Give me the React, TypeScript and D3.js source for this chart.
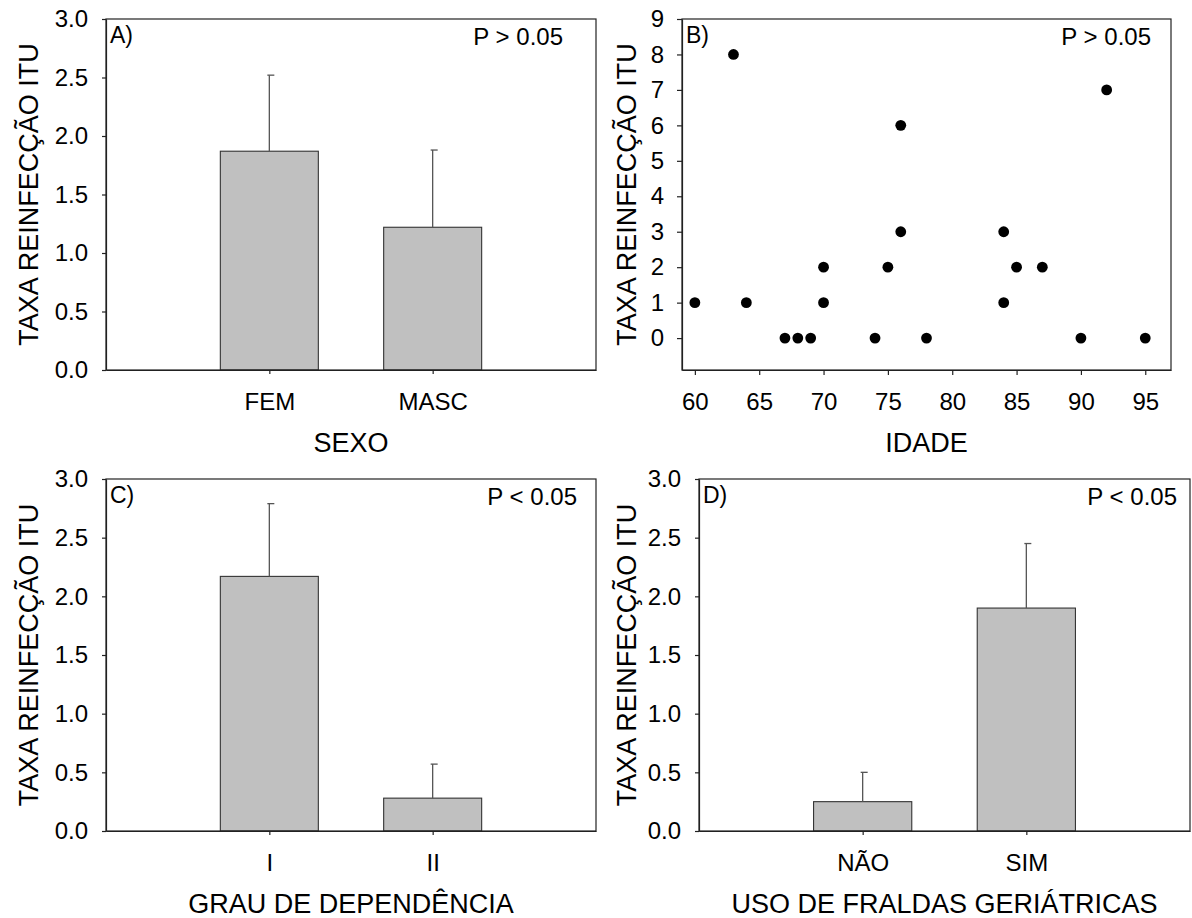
import * as d3 from 'd3';
import React, { useRef, useEffect } from 'react';

// painel A - sexo
const sexoCats = ['FEM', 'MASC'];
const sexoMeans = [1.87, 1.22];
const sexoErr = [0.65, 0.66];

// painel B - idade x reinfecções
const idades = [60, 63, 64, 67, 68, 69, 70, 70, 74, 75, 76, 76, 78, 84, 84, 85, 87, 90, 92, 95];
const reinfeccoes = [1, 8, 1, 0, 0, 0, 2, 1, 0, 2, 6, 3, 0, 3, 1, 2, 2, 0, 7, 0];

// painel C - grau de dependência
const grauCats = ['I', 'II'];
const grauMeans = [2.17, 0.28];
const grauErr = [0.62, 0.29];

// painel D - fraldas geriátricas
const fraldaCats = ['NÃO', 'SIM'];
const fraldaMeans = [0.25, 1.9];
const fraldaErr = [0.25, 0.55];

const barTicks = [0, 0.5, 1, 1.5, 2, 2.5, 3];
const idadeTicks = [60, 65, 70, 75, 80, 85, 90, 95];
const reinfTicks = [0, 1, 2, 3, 4, 5, 6, 7, 8, 9];

const yTitle = 'TAXA REINFECÇÃO ITU';
const FONT = "'Liberation Sans', Arial, sans-serif";
const INK = '#222';

type Box = { left: number; right: number; top: number; bottom: number };

function frame(svg: any, box: Box, tag: string, pText: string, pRight: number, xTitle: string, yTitleX: number) {
  const g = svg.append('g');
  g.append('rect')
    .attr('x', box.left).attr('y', box.top)
    .attr('width', box.right - box.left).attr('height', box.bottom - box.top)
    .attr('fill', 'none').attr('stroke', INK).attr('stroke-width', 1.2);

  g.append('text')
    .attr('x', box.left + 4).attr('y', box.top + 24)
    .attr('font-size', 23).attr('font-family', FONT)
    .text(tag);

  g.append('text')
    .attr('x', box.right - pRight).attr('y', box.top + 26)
    .attr('text-anchor', 'end')
    .attr('font-size', 24).attr('font-family', FONT)
    .text(pText);

  g.append('text')
    .attr('x', (box.left + box.right) / 2).attr('y', box.bottom + 82)
    .attr('text-anchor', 'middle')
    .attr('font-size', 27).attr('font-family', FONT)
    .text(xTitle);

  g.append('text')
    .attr('transform', `translate(${yTitleX},${(box.top + box.bottom) / 2}) rotate(-90)`)
    .attr('text-anchor', 'middle')
    .attr('font-size', 27).attr('font-family', FONT)
    .text(yTitle);
}

function styleAxis(ax: any) {
  ax.attr('font-size', 24).attr('font-family', FONT);
  ax.selectAll('path, line').attr('stroke', INK).attr('stroke-width', 1.2);
  ax.selectAll('text').attr('fill', '#000');
}

function barPanel(svg: any, box: Box, cats: string[], means: number[], errs: number[]) {
  const x = d3.scaleLinear().domain([0, 3]).range([box.left, box.right]);
  const y = d3.scaleLinear().domain([0, 3]).range([box.bottom, box.top]);
  const bw = x(0.6) - x(0);

  const g = svg.append('g');
  g.selectAll('rect.bar')
    .data(means)
    .enter()
    .append('rect')
    .attr('class', 'bar')
    .attr('x', (d: number, i: number) => x(i + 1) - bw / 2)
    .attr('y', (d: number) => y(d))
    .attr('width', bw)
    .attr('height', (d: number) => y(0) - y(d))
    .attr('fill', '#c0c0c0')
    .attr('stroke', '#333')
    .attr('stroke-width', 1.1);

  means.forEach((m, i) => {
    const cx = x(i + 1);
    g.append('line')
      .attr('x1', cx).attr('x2', cx)
      .attr('y1', y(m)).attr('y2', y(m + errs[i]))
      .attr('stroke', '#555').attr('stroke-width', 1.3);
    g.append('line')
      .attr('x1', cx - 2).attr('x2', cx + 5)
      .attr('y1', y(m + errs[i])).attr('y2', y(m + errs[i]))
      .attr('stroke', '#555').attr('stroke-width', 1.3);
  });

  const ay = svg.append('g')
    .attr('transform', `translate(${box.left},0)`)
    .call(d3.axisLeft(y).tickValues(barTicks).tickFormat(d3.format('.1f') as any)
      .tickSize(4).tickSizeOuter(0).tickPadding(14));
  styleAxis(ay);

  const ax = svg.append('g')
    .attr('transform', `translate(0,${box.bottom})`)
    .call(d3.axisBottom(x).tickValues([1, 2]).tickFormat((d: any, i: number) => cats[i])
      .tickSize(4).tickSizeOuter(0).tickPadding(19));
  styleAxis(ax);
}

function scatterPanel(svg: any, box: Box) {
  const x = d3.scaleLinear().domain([59, 97]).range([box.left, box.right]);
  const y = d3.scaleLinear().domain([-0.9, 9]).range([box.bottom, box.top]);

  svg.append('g')
    .selectAll('circle')
    .data(idades)
    .enter()
    .append('circle')
    .attr('cx', (d: number) => x(d))
    .attr('cy', (d: number, i: number) => y(reinfeccoes[i]))
    .attr('r', 5.4)
    .attr('fill', '#000');

  const ay = svg.append('g')
    .attr('transform', `translate(${box.left},0)`)
    .call(d3.axisLeft(y).tickValues(reinfTicks).tickFormat(d3.format('d') as any)
      .tickSize(5).tickSizeOuter(0).tickPadding(13));
  styleAxis(ay);

  const ax = svg.append('g')
    .attr('transform', `translate(0,${box.bottom})`)
    .call(d3.axisBottom(x).tickValues(idadeTicks).tickFormat(d3.format('d') as any)
      .tickSize(5).tickSizeOuter(0).tickPadding(18));
  styleAxis(ax);
}

function App() {
  const ref = useRef(null);

  useEffect(() => {
    const svg = d3.select(ref.current);
    svg.selectAll('*').remove();

    const boxA = { left: 106, right: 596, top: 19, bottom: 370 };
    const boxB = { left: 682, right: 1171, top: 19, bottom: 370 };
    const boxC = { left: 106, right: 596, top: 479, bottom: 831 };
    const boxD = { left: 699, right: 1190, top: 479, bottom: 831 };

    barPanel(svg, boxA, sexoCats, sexoMeans, sexoErr);
    frame(svg, boxA, 'A)', 'P > 0.05', 33, 'SEXO', 38);

    scatterPanel(svg, boxB);
    frame(svg, boxB, 'B)', 'P > 0.05', 20, 'IDADE', 636);

    barPanel(svg, boxC, grauCats, grauMeans, grauErr);
    frame(svg, boxC, 'C)', 'P < 0.05', 19, 'GRAU DE DEPENDÊNCIA', 38);

    barPanel(svg, boxD, fraldaCats, fraldaMeans, fraldaErr);
    frame(svg, boxD, 'D)', 'P < 0.05', 13, 'USO DE FRALDAS GERIÁTRICAS', 636);
  }, []);

  return (
    <svg
      ref={ref}
      width={1192}
      height={918}
      style={{ position: 'absolute', left: 0, top: 0, background: '#fff' }}
    />
  );
}

export default App;
